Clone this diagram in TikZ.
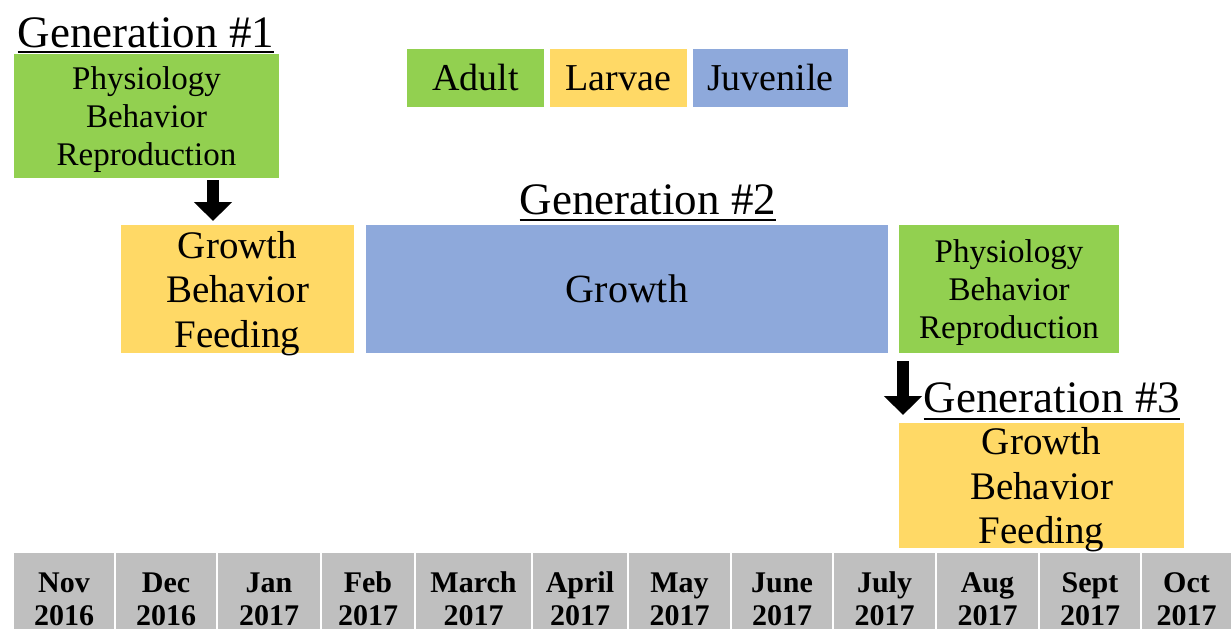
\documentclass[tikz,border=0pt]{standalone}
\usepackage{fontspec}
\setmainfont{Liberation Serif}
\usetikzlibrary{arrows.meta,positioning}

\definecolor{adultc}{HTML}{92D050}
\definecolor{larvac}{HTML}{FFD966}
\definecolor{juvc}{HTML}{8EA9DB}
\definecolor{monthc}{HTML}{BFBFBF}

\begin{document}
\begin{tikzpicture}[
    x=1pt, y=-1pt,
    box/.style={rectangle, inner sep=0pt, outer sep=0pt, align=center, anchor=north west},
    adult/.style={box, fill=adultc, text depth=0pt, font=\fontsize{33}{38}\selectfont},
    larva/.style={box, fill=larvac, text depth=0pt, font=\fontsize{39}{44.5}\selectfont},
    juv/.style={box, fill=juvc, font=\fontsize{40}{46}\selectfont},
    key/.style={box, minimum height=58pt, font=\fontsize{38}{44}\selectfont},
    genlabel/.style={inner sep=0pt, anchor=base, font=\fontsize{45}{50}\selectfont},
    uline/.style={line width=2pt},
    bigarrow/.style={line width=12pt, -{Triangle[width=37pt,length=19pt]}},
    cell/.style={box, fill=monthc, minimum height=76pt},
    month/.style={inner sep=0pt, anchor=base, font=\bfseries\fontsize{30}{33}\selectfont}
  ]
    \useasboundingbox (0,0) rectangle (1231,629);

    % legend
    \node[key, fill=adultc, minimum width=137pt] (kadult) at (407,49) {Adult};
    \node[key, fill=larvac, minimum width=137pt] (klarva) at (550,49) {Larvae};
    \node[key, fill=juvc, minimum width=155pt] (kjuv) at (693,49) {Juvenile};

    % generation 1
    \node[genlabel] (gen1) at (146,47) {Generation \#1};
    \draw[uline] ([yshift=-5pt]gen1.base west) -- ([yshift=-5pt]gen1.base east);
    \node[adult, minimum width=265pt, minimum height=124pt] (adult1) at (14,54) {Physiology\\Behavior\\Reproduction};

    % generation 2
    \node[genlabel] (gen2) at (648,214) {Generation \#2};
    \draw[uline] ([yshift=-6pt]gen2.base west) -- ([yshift=-6pt]gen2.base east);
    \node[larva, minimum width=233pt, minimum height=128pt] (larva2) at (121,225) {Growth\\Behavior\\Feeding};
    \node[juv, minimum width=522pt, minimum height=128pt] (juv2) at (366,225) {Growth};
    \node[adult, minimum width=220pt, minimum height=128pt] (adult2) at (899,225) {Physiology\\Behavior\\Reproduction};

    % generation 3
    \node[genlabel] (gen3) at (1052,412) {Generation \#3};
    \draw[uline] ([yshift=-7pt]gen3.base west) -- ([yshift=-7pt]gen3.base east);
    \node[larva, minimum width=285pt, minimum height=125pt] (larva3) at (899,423) {Growth\\Behavior\\Feeding};

    % arrows
    \coordinate (a1) at (213,180);
    \coordinate (a2) at (903,361);
    \draw[bigarrow, shorten >=4pt] (a1) -- (a1 |- larva2.north);
    \draw[bigarrow, shorten >=8pt] (a2) -- (a2 |- larva3.north);

    % months
    \foreach \l/\r/\m/\yr [count=\i] in {13/115/Nov/2016, 115/217/Dec/2016, 217/321/Jan/2017,
        321/415/Feb/2017, 415/532/March/2017, 532/628/April/2017, 628/731/May/2017,
        731/833/June/2017, 833/936/July/2017, 936/1039/Aug/2017, 1039/1141/Sept/2017,
        1141/1232/Oct/2017}{
      \node[cell, minimum width={\r-\l-2}] (m\i) at (\l+1,553) {};
      \node[month] (mt\i) at ({(\l+\r)/2},592) {\m};
      \node[month] (yt\i) at ({(\l+\r)/2},625) {\yr};
    }
  \end{tikzpicture}
\end{document}
